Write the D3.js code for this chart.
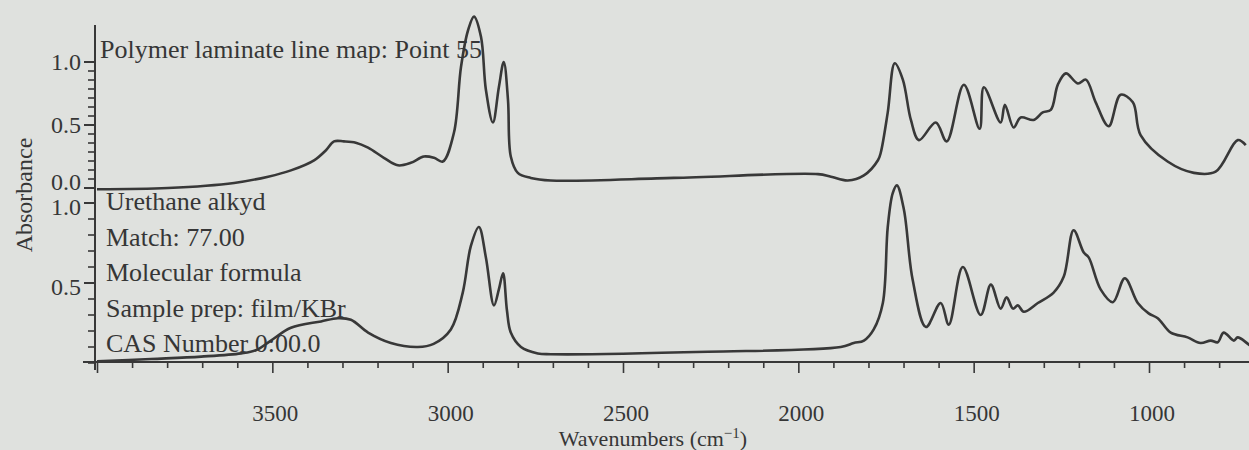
<!DOCTYPE html>
<html>
<head>
<meta charset="utf-8">
<script src="https://cdn.jsdelivr.net/npm/d3@7"></script>
<style>
  html, body { margin: 0; padding: 0; background: #dfe1de; }
  svg { display: block; }
  text { font-family: "Liberation Serif", "Times New Roman", serif; fill: #363636; }
</style>
</head>
<body>
<svg id="canvas" width="1249" height="450"></svg>
<script>
// sample spectrum (top trace) - wavenumber / absorbance
let topWn  = [4000, 3798, 3609, 3512, 3447, 3381, 3347, 3324, 3296, 3262, 3227, 3182, 3142, 3105, 3068, 3039, 3014,
              2982, 2962, 2942, 2925, 2905, 2891, 2871, 2854, 2840, 2828, 2820, 2800, 2763, 2706, 2355, 1944, 1907,
              1859, 1813, 1773, 1765, 1745, 1725, 1702, 1679, 1656, 1608, 1577, 1528, 1483, 1471, 1423, 1411, 1386,
              1366, 1329, 1303, 1280, 1260, 1237, 1203, 1180, 1152, 1115, 1081, 1046, 1024, 947, 872, 810, 747, 724];
let topAbs = [-0.01, 0.00, 0.04, 0.09, 0.14, 0.22, 0.30, 0.37, 0.37, 0.36, 0.32, 0.24, 0.18, 0.20, 0.25, 0.24, 0.21,
              0.44, 0.96, 1.25, 1.36, 1.20, 0.78, 0.52, 0.80, 1.00, 0.70, 0.25, 0.12, 0.08, 0.06, 0.08, 0.11, 0.09,
              0.06, 0.10, 0.22, 0.28, 0.60, 0.99, 0.86, 0.54, 0.38, 0.52, 0.37, 0.82, 0.47, 0.80, 0.52, 0.66, 0.48,
              0.56, 0.54, 0.60, 0.62, 0.82, 0.91, 0.83, 0.86, 0.68, 0.49, 0.74, 0.68, 0.42, 0.21, 0.12, 0.13, 0.38, 0.34];

// library match (bottom trace)
let botWn  = [4000, 3846, 3703, 3589, 3547, 3504, 3447, 3361, 3313, 3276, 3227, 3162, 3085, 3040, 2991, 2957, 2934,
              2911, 2891, 2868, 2854, 2842, 2831, 2820, 2791, 2743, 2706, 2258, 1879, 1842, 1813, 1785, 1759, 1745,
              1731, 1719, 1699, 1674, 1636, 1594, 1571, 1531, 1480, 1451, 1423, 1406, 1388, 1374, 1357, 1317, 1272,
              1243, 1215, 1186, 1172, 1138, 1103, 1069, 1032, 1001, 975, 938, 890, 853, 824, 804, 787, 758, 747, 713];
let botAbs = [0.01, 0.025, 0.04, 0.06, 0.08, 0.14, 0.22, 0.26, 0.28, 0.27, 0.19, 0.125, 0.10, 0.12, 0.21, 0.44, 0.73,
              0.85, 0.66, 0.36, 0.46, 0.56, 0.33, 0.19, 0.10, 0.06, 0.055, 0.07, 0.10, 0.125, 0.14, 0.21, 0.375, 0.85,
              1.06, 1.11, 0.96, 0.52, 0.225, 0.375, 0.24, 0.60, 0.30, 0.49, 0.34, 0.41, 0.34, 0.36, 0.32, 0.375, 0.44,
              0.54, 0.83, 0.69, 0.66, 0.46, 0.38, 0.53, 0.375, 0.31, 0.28, 0.19, 0.16, 0.125, 0.14, 0.13, 0.19, 0.14, 0.16, 0.11];

let xTicks = [3500, 3000, 2500, 2000, 1500, 1000];
let topYTicks = [0.0, 0.5, 1.0];
let botYTicks = [0.5, 1.0];

let topLabel = 'Polymer laminate line map: Point 55';
let botLabels = ['Urethane alkyd', 'Match: 77.00', 'Molecular formula', 'Sample prep: film/KBr', 'CAS Number 0:00.0'];

let canvas = d3.select('#canvas');
let ink = '#383838';

let x = d3.scaleLinear().domain([4000, 1000]).range([97, 1149]);
let yTop = d3.scaleLinear().domain([0, 1]).range([188, 62]);
let yBot = d3.scaleLinear().domain([0, 1]).range([363, 203]);

let axisX = 95;
let baseY = 362;

// vertical axis line
canvas.append('line')
    .attr('x1', axisX).attr('x2', axisX)
    .attr('y1', 25).attr('y2', baseY + 8)
    .attr('stroke', ink).attr('stroke-width', 2);

// y ticks, top panel (minor ticks are odd, 7 per half unit)
let topMinor = d3.range(0, 15).map(i => i / 14).filter(v => v <= 1.01);
canvas.selectAll('line.tminor')
    .data(topMinor)
    .enter()
    .append('line')
    .attr('class', 'tminor')
    .attr('x1', axisX - 7).attr('x2', axisX)
    .attr('y1', d => yTop(d)).attr('y2', d => yTop(d))
    .attr('stroke', ink).attr('stroke-width', 1.6);

canvas.selectAll('line.tmajor')
    .data(topYTicks)
    .enter()
    .append('line')
    .attr('class', 'tmajor')
    .attr('x1', axisX - 11).attr('x2', axisX)
    .attr('y1', d => yTop(d)).attr('y2', d => yTop(d))
    .attr('stroke', ink).attr('stroke-width', 2);

canvas.selectAll('text.tlab')
    .data(topYTicks)
    .enter()
    .append('text')
    .attr('class', 'tlab')
    .attr('x', axisX - 14)
    .attr('y', d => yTop(d) + (d === 0 ? 2 : 8))
    .attr('text-anchor', 'end')
    .style('font-size', '24px')
    .text(d => d.toFixed(1));

// y ticks, bottom panel
let botMinor = d3.range(0, 11).map(i => i / 10);
canvas.selectAll('line.bminor')
    .data(botMinor)
    .enter()
    .append('line')
    .attr('class', 'bminor')
    .attr('x1', axisX - 7).attr('x2', axisX)
    .attr('y1', d => yBot(d)).attr('y2', d => yBot(d))
    .attr('stroke', ink).attr('stroke-width', 1.6);

canvas.selectAll('line.bmajor')
    .data(botYTicks)
    .enter()
    .append('line')
    .attr('class', 'bmajor')
    .attr('x1', axisX - 11).attr('x2', axisX)
    .attr('y1', d => yBot(d)).attr('y2', d => yBot(d))
    .attr('stroke', ink).attr('stroke-width', 2);

canvas.selectAll('text.blab')
    .data(botYTicks)
    .enter()
    .append('text')
    .attr('class', 'blab')
    .attr('x', axisX - 14)
    .attr('y', d => yBot(d) + 12)
    .attr('text-anchor', 'end')
    .style('font-size', '24px')
    .text(d => d.toFixed(1));

// x axis
let xAxis = d3.axisBottom(x)
    .tickValues(d3.range(4000, 699, -100))
    .tickSize(6)
    .tickFormat('');
let gx = canvas.append('g')
    .attr('transform', `translate(0,${baseY})`)
    .call(xAxis);
gx.select('.domain').remove();
gx.selectAll('.tick line')
    .attr('stroke', ink)
    .attr('stroke-width', 1.6)
    .attr('y2', d => d % 500 === 0 ? 11 : 6);

canvas.append('line')
    .attr('x1', axisX - 12).attr('x2', 1249)
    .attr('y1', baseY).attr('y2', baseY)
    .attr('stroke', ink).attr('stroke-width', 2);

canvas.selectAll('text.xlab')
    .data(xTicks)
    .enter()
    .append('text')
    .attr('class', 'xlab')
    .attr('x', d => x(d) + 3)
    .attr('y', 421)
    .attr('text-anchor', 'middle')
    .style('font-size', '23px')
    .text(d => d);

// axis titles
let xt = canvas.append('text')
    .attr('x', 653)
    .attr('y', 446)
    .attr('text-anchor', 'middle')
    .style('font-size', '22px');
xt.append('tspan').text('Wavenumbers (cm');
xt.append('tspan').attr('dy', -8).style('font-size', '15px').text('\u22121');
xt.append('tspan').attr('dy', 8).text(')');

canvas.append('text')
    .attr('transform', 'translate(32,195) rotate(-90)')
    .attr('text-anchor', 'middle')
    .style('font-size', '24px')
    .text('Absorbance');

// spectra
let topData = topWn.map((w, i) => ({w: w, a: topAbs[i]}));
let botData = botWn.map((w, i) => ({w: w, a: botAbs[i]}));

let topLine = d3.line()
    .x(d => x(d.w))
    .y(d => yTop(d.a))
    .curve(d3.curveCatmullRom.alpha(0.5));
let botLine = d3.line()
    .x(d => x(d.w))
    .y(d => yBot(d.a))
    .curve(d3.curveCatmullRom.alpha(0.5));

canvas.append('path')
    .datum(topData)
    .attr('d', topLine)
    .attr('fill', 'none')
    .attr('stroke', ink)
    .attr('stroke-width', 2.6)
    .attr('stroke-linejoin', 'round');

canvas.append('path')
    .datum(botData)
    .attr('d', botLine)
    .attr('fill', 'none')
    .attr('stroke', ink)
    .attr('stroke-width', 2.6)
    .attr('stroke-linejoin', 'round');

// text annotations
canvas.append('text')
    .attr('x', 100)
    .attr('y', 58)
    .style('font-size', '26px')
    .text(topLabel);

canvas.selectAll('text.info')
    .data(botLabels)
    .enter()
    .append('text')
    .attr('class', 'info')
    .attr('x', 106)
    .attr('y', (d, i) => 210 + i * 35.5)
    .style('font-size', '26px')
    .text(d => d);
</script>
</body>
</html>
